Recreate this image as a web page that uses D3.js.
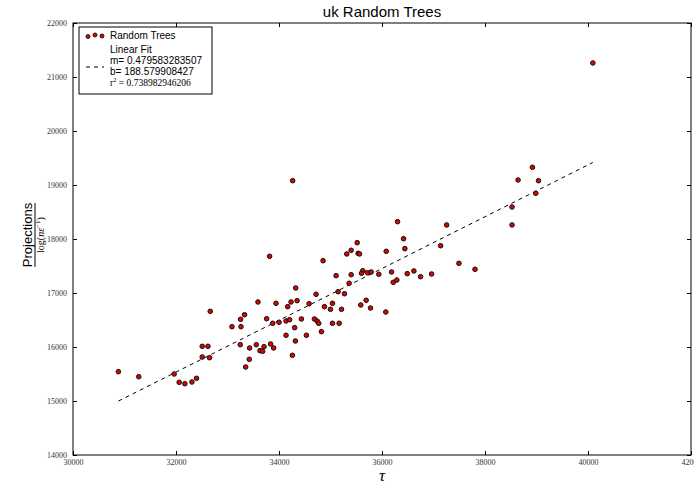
<!DOCTYPE html>
<html><head><meta charset="utf-8">
<script src="https://cdn.jsdelivr.net/npm/d3@7/dist/d3.min.js"></script>
<style>body{margin:0;background:#fff;} svg{display:block;}</style>
</head><body>
<svg id="c" width="694" height="484"></svg>
<script>
const xTicks = [30000,32000,34000,36000,38000,40000,42000];
const yTicks = [14000,15000,16000,17000,18000,19000,20000,21000,22000];
const tau = [30881,31277,31964,32062,32172,32309,32399,32509,32620,32509,32651,33248,33429,33423,33352,
34856,35109,35361,32665,33592,33942,34324,34234,34351,34168,34720,34584,35148,35271,35038,34882,34999,35213,
33332,33254,33760,33877,34001,34137,34207,34435,34304,34687,34740,34771,35038,35168,34824,33087,33262,34137,
34318,34532,33559,33709,33837,33896,33631,33682,34260,36419,37138,36444,35518,35401,35316,35537,35563,36082,
35401,35627,35602,35718,35790,35938,36185,36490,36619,36749,36963,36218,36288,35693,35588,35777,36074,
38921,38642,39038,38986,38525,38525,37255,37494,37806,34265,36302,33818,40094];
const proj = [15543,15450,15500,15346,15320,15352,15420,16013,16013,15815,15802,16043,15982,15772,15630,
17598,17321,17180,16661,16834,16809,17093,16834,16858,16747,16976,16802,17024,16987,16809,16747,16698,16698,
16598,16513,16524,16439,16458,16482,16506,16519,16358,16519,16482,16439,16439,16439,16284,16376,16376,16217,
16111,16217,16043,16006,16056,15982,15932,15920,15846,18006,17876,17821,17932,17791,17723,17735,17723,17772,
17339,17413,17365,17376,17389,17347,17389,17358,17408,17302,17352,17198,17241,16865,16778,16722,16648,
19328,19093,19080,18847,18593,18260,18260,17550,17439,19080,18321,17680,21260];
const fitM = 0.479583283507, fitB = 188.579908427, r2 = 0.738982946206;

const svg = d3.select("#c");
const L = 73, R = 691, T = 23, B = 455;
const x = d3.scaleLinear().domain([30000,42000]).range([L,R]);
const y = d3.scaleLinear().domain([14000,22000]).range([B,T]);

const tickFont = "'Liberation Serif', 'DejaVu Serif', serif";
const gx = svg.append("g").attr("transform",`translate(0,${B})`)
  .call(d3.axisBottom(x).tickValues(xTicks).tickSize(-4).tickPadding(6).tickFormat(d3.format("d")));
const gxt = svg.append("g").attr("transform",`translate(0,${T})`)
  .call(d3.axisTop(x).tickValues(xTicks).tickSize(-4).tickFormat(""));
const gy = svg.append("g").attr("transform",`translate(${L},0)`)
  .call(d3.axisLeft(y).tickValues(yTicks).tickSize(-4).tickPadding(6).tickFormat(d3.format("d")));
const gyr = svg.append("g").attr("transform",`translate(${R},0)`)
  .call(d3.axisRight(y).tickValues(yTicks).tickSize(-4).tickFormat(""));
[gx,gxt,gy,gyr].forEach(g=>{
  g.select(".domain").remove();
  g.selectAll("line").attr("stroke","#000").attr("stroke-width",1);
  g.selectAll("text").attr("font-family",tickFont).attr("font-size",8).attr("fill","#333");
});
gx.selectAll("text").attr("dy","0.5em");
svg.append("rect").attr("x",L).attr("y",T).attr("width",R-L).attr("height",B-T)
  .attr("fill","none").attr("stroke","#000").attr("stroke-width",1);

// fit line
const xmin = d3.min(tau), xmax = d3.max(tau);
svg.append("line").attr("x1",x(xmin)).attr("y1",y(fitM*xmin+fitB))
  .attr("x2",x(xmax)).attr("y2",y(fitM*xmax+fitB))
  .attr("stroke","#000").attr("stroke-width",1).attr("stroke-dasharray","4,4");

// points
svg.append("g").selectAll("circle").data(tau).join("circle")
  .attr("cx",(d)=>x(d)).attr("cy",(d,i)=>y(proj[i])).attr("r",2.3)
  .attr("fill","#e00000").attr("stroke","#111").attr("stroke-width",1);

// title
svg.append("text").attr("x",(L+R)/2).attr("y",17).attr("text-anchor","middle")
  .attr("font-family","'Liberation Sans', Arial, sans-serif").attr("font-size",15).text("uk Random Trees");

// x label
svg.append("text").attr("x",(L+R)/2).attr("y",481).attr("text-anchor","middle")
  .attr("font-family",tickFont).attr("font-style","italic").attr("font-size",17).text("τ");

// y label (fraction)
const yl = svg.append("g").attr("transform",`translate(34,235) rotate(-90)`);
yl.append("text").attr("x",0).attr("y",-2).attr("text-anchor","middle")
  .attr("font-family","'Liberation Sans', Arial, sans-serif").attr("font-size",13).text("Projections");
yl.append("line").attr("x1",-32).attr("x2",32).attr("y1",1).attr("y2",1).attr("stroke","#000").attr("stroke-width",1);
const den = yl.append("text").attr("x",0).attr("y",10).attr("text-anchor","middle")
  .attr("font-family",tickFont).attr("font-size",10).attr("font-style","italic");
den.append("tspan").attr("font-style","normal").text("log(");
den.append("tspan").text("nε");
den.append("tspan").attr("font-style","normal").attr("font-size",7).attr("dy",-4).text("−1");
den.append("tspan").attr("font-style","normal").attr("dy",4).text(")");

// legend
const lg = svg.append("g");
lg.append("rect").attr("x",79).attr("y",27).attr("width",133).attr("height",67)
  .attr("fill","#fff").attr("stroke","#000").attr("stroke-width",1);
[[88,36.5],[95,35],[102,36]].forEach(p=>{
  lg.append("circle").attr("cx",p[0]).attr("cy",p[1]).attr("r",2)
    .attr("fill","#e00000").attr("stroke","#111").attr("stroke-width",0.9);
});
lg.append("line").attr("x1",86).attr("x2",104).attr("y1",67).attr("y2",67)
  .attr("stroke","#000").attr("stroke-width",1).attr("stroke-dasharray","4,4");
const lf = "'Liberation Sans', Arial, sans-serif";
const lt = (t,yy)=>lg.append("text").attr("x",110).attr("y",yy).attr("font-family",lf).attr("font-size",10).text(t);
lt("Random Trees",39);
lt("Linear Fit",53);
lt("m= "+fitM,64);
lt("b= "+fitB,75);
const rt = lg.append("text").attr("x",110).attr("y",86).attr("font-family",tickFont).attr("font-size",9.5);
rt.append("tspan").text("r");
rt.append("tspan").attr("font-size",6.5).attr("dy",-4).text("2");
rt.append("tspan").attr("dy",4).text(" = "+r2);
</script>
</body></html>
